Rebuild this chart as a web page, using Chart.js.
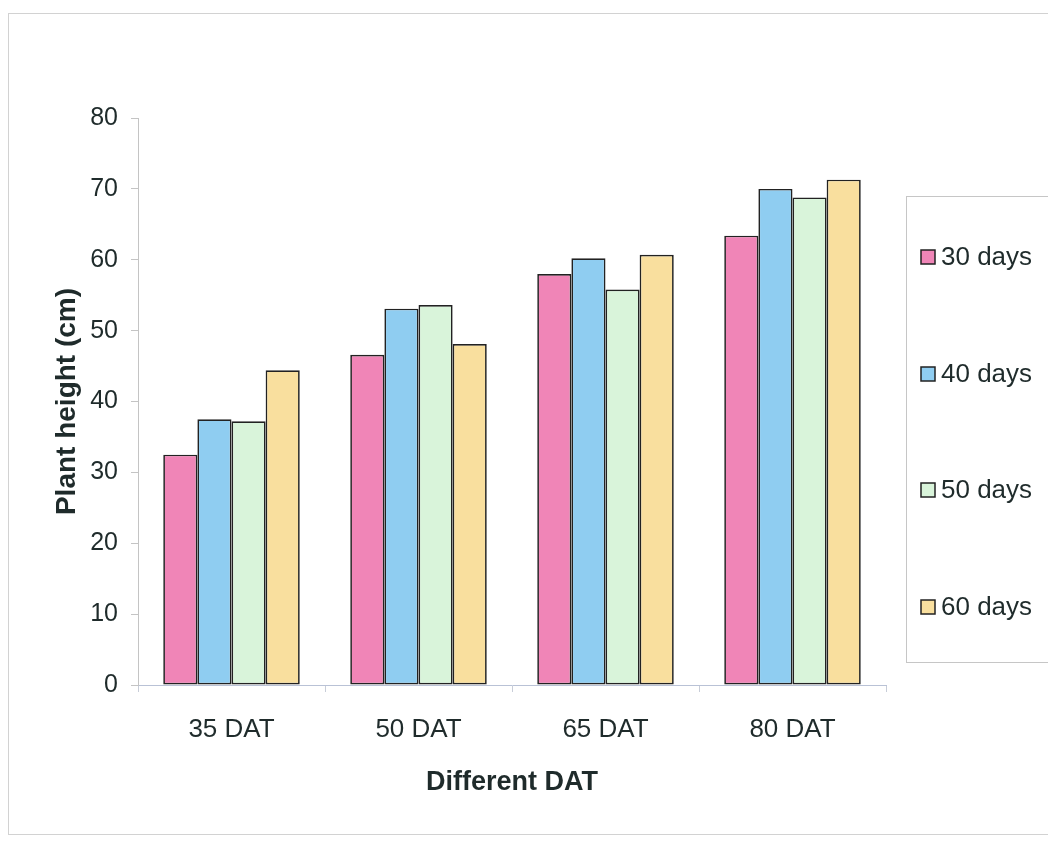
<!DOCTYPE html>
<html>
<head>
<meta charset="utf-8">
<script src="https://cdn.jsdelivr.net/npm/chart.js@4.4.1/dist/chart.umd.min.js"></script>
<style>
  html, body { margin: 0; padding: 0; background: #fff; }
</style>
</head>
<body>
<canvas id="dat-chart" width="1048" height="842"></canvas>
<script>
/*globals Chart*/
var categories = ["35 DAT", "50 DAT", "65 DAT", "80 DAT"];
var seriesNames = ["30 days", "40 days", "50 days", "60 days"];
var days30 = [32.5, 46.6, 58.0, 63.4];
var days40 = [37.5, 53.1, 60.2, 70.0];
var days50 = [37.2, 53.6, 55.8, 68.8];
var days60 = [44.4, 48.1, 60.7, 71.3];
var yMin = 0, yMax = 80, yStep = 10;

var fills = ["#f085b7", "#8fcdf1", "#d9f4da", "#f9df9e"];
var textColor = "#1f2b2b";
var fontFamily = "'Liberation Sans', Arial, sans-serif";

function makeDataset(label, values, color) {
    return {label: label,
            data: values,
            backgroundColor: color,
            borderColor: "#222",
            borderWidth: 1.7,
            borderSkipped: false};
}

// white page and the faint frame round the whole picture
var pageFrame = {
    id: "pageFrame",
    beforeDraw: function (chart) {
        var ctx = chart.ctx;
        ctx.save();
        ctx.fillStyle = "#fff";
        ctx.fillRect(0, 0, chart.width, chart.height);
        ctx.strokeStyle = "#d2d2d2";
        ctx.lineWidth = 1;
        ctx.strokeRect(8.5, 13.5, chart.width + 20, 821);
        ctx.restore();
    }
};

// boxed legend on the right, items spread over the box height
var boxLegend = {
    id: "boxLegend",
    afterDraw: function (chart) {
        var ctx = chart.ctx;
        var left = chart.chartArea.right + 20, top = 196, bottom = 662;
        var step = (bottom - top) / chart.data.datasets.length;
        ctx.save();
        ctx.strokeStyle = "#c6c6c6";
        ctx.lineWidth = 1;
        ctx.strokeRect(left + 0.5, top + 0.5, 300, bottom - top);
        ctx.font = "26px " + fontFamily;
        ctx.textBaseline = "middle";
        chart.data.datasets.forEach(function (ds, i) {
            var cy = Math.round(top + 3 + step * (i + 0.5));
            ctx.fillStyle = ds.backgroundColor;
            ctx.fillRect(left + 15, cy - 7, 14, 14);
            ctx.strokeStyle = "#222";
            ctx.lineWidth = 1.5;
            ctx.strokeRect(left + 15, cy - 7, 14, 14);
            ctx.fillStyle = textColor;
            ctx.fillText(ds.label, left + 35, cy + 1);
        });
        ctx.restore();
    }
};

var ctx = document.getElementById("dat-chart").getContext("2d");
var chart = new Chart(ctx, {
    type: "bar",
    data: {
        labels: categories,
        datasets: [makeDataset(seriesNames[0], days30, fills[0]),
                   makeDataset(seriesNames[1], days40, fills[1]),
                   makeDataset(seriesNames[2], days50, fills[2]),
                   makeDataset(seriesNames[3], days60, fills[3])]
    },
    options: {
        responsive: false,
        animation: false,
        categoryPercentage: 0.73,
        barPercentage: 1.0,
        layout: { padding: { left: 0, top: 118, right: 162, bottom: 0 } },
        plugins: {
            legend: { display: false },
            tooltip: { enabled: false }
        },
        scales: {
            x: {
                afterFit: function (scale) { scale.height = 157; },
                grid: { drawOnChartArea: false, offset: true, tickLength: 7, color: "#c8cdd8" },
                border: { color: "#b9c2d6", width: 1 },
                ticks: {
                    padding: 22,
                    color: textColor,
                    font: { family: fontFamily, size: 26 }
                },
                title: {
                    display: true,
                    text: "Different DAT",
                    color: textColor,
                    padding: { top: 0, bottom: 43 },
                    font: { family: fontFamily, size: 27, weight: "bold" }
                }
            },
            y: {
                min: yMin,
                max: yMax,
                afterFit: function (scale) { scale.width = 138; },
                grid: { drawOnChartArea: false, tickLength: 7, color: "#c4c4c4" },
                border: { color: "#c4c4c4", width: 1 },
                ticks: {
                    stepSize: yStep,
                    padding: 13,
                    color: textColor,
                    font: { family: fontFamily, size: 25 }
                },
                title: {
                    display: true,
                    text: "Plant height (cm)",
                    color: textColor,
                    padding: { top: 50, bottom: 0 },
                    font: { family: fontFamily, size: 28, weight: "bold" }
                }
            }
        }
    },
    plugins: [pageFrame, boxLegend]
});
</script>
</body>
</html>
